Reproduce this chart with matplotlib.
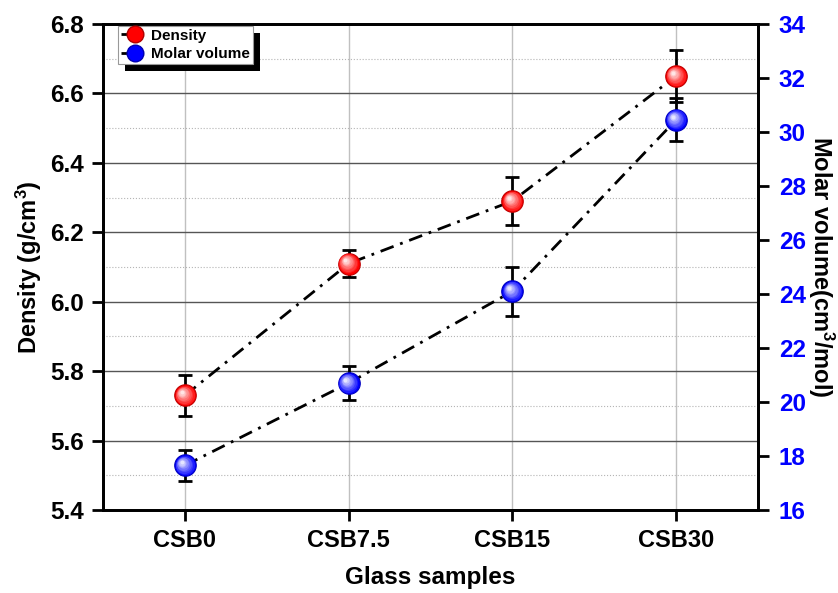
import numpy as np
import matplotlib
matplotlib.use('Agg')
import matplotlib.pyplot as plt
from matplotlib.lines import Line2D
from matplotlib.patches import Rectangle
from matplotlib.transforms import offset_copy, IdentityTransform
from matplotlib.ticker import MultipleLocator
import matplotlib.colors as mcolors

plt.rcParams['font.family'] = ['Liberation Sans', 'DejaVu Sans']
plt.rcParams['font.weight'] = 'bold'
plt.rcParams['mathtext.fontset'] = 'custom'
plt.rcParams['mathtext.rm'] = 'Liberation Sans:bold'
plt.rcParams['mathtext.bf'] = 'Liberation Sans:bold'
plt.rcParams['mathtext.default'] = 'bf'

# 数据
samples = ['CSB0', 'CSB7.5', 'CSB15', 'CSB30']
density = [5.73, 6.11, 6.29, 6.65]
density_err = [0.06, 0.04, 0.07, 0.075]
molar_volume = [17.65, 20.7, 24.1, 30.45]
molar_volume_err = [0.57, 0.62, 0.9, 0.8]

xs = np.arange(len(samples))
dashdot = (0, (5, 2.5, 1, 2.5))


def sphere(ax, x, y, color, size=15.5):
    # 画一个带高光的小球
    base = np.array(mcolors.to_rgb(color))
    ax.plot(x, y, 'o', ms=size, color=color, mec=tuple(base * 0.75),
            mew=0.8, ls='none', zorder=6)
    steps = 8
    for i in range(1, steps + 1):
        f = i / steps
        c = base * (1 - f * 0.9) + np.ones(3) * f * 0.9
        tr = offset_copy(ax.transData, fig=ax.figure, x=-2.4 * f, y=2.4 * f, units='points')
        ax.plot(x, y, 'o', ms=size * (1 - 0.82 * f), color=tuple(c), mew=0, ls='none',
                transform=tr, zorder=6 + i * 0.01)


fig = plt.figure(figsize=(8.38, 5.93), dpi=100)
ax = fig.add_axes([0.123, 0.14, 0.7815, 0.8195])
ax2 = ax.twinx()

# 左轴 密度
ax.plot(xs, density, color='black', lw=2, ls=dashdot, zorder=3)
ax.errorbar(xs, density, yerr=density_err, fmt='none', ecolor='black', elinewidth=2,
            capsize=5, capthick=2, zorder=4)
sphere(ax, xs, density, 'red')

# 右轴 摩尔体积
ax2.plot(xs, molar_volume, color='black', lw=2, ls=dashdot, zorder=3)
ax2.errorbar(xs, molar_volume, yerr=molar_volume_err, fmt='none', ecolor='black', elinewidth=2,
             capsize=5, capthick=2, zorder=4)
sphere(ax2, xs, molar_volume, 'blue')

ax.set_xlim(-0.5, 3.5)
ax.set_ylim(5.4, 6.8)
ax2.set_ylim(16, 34)
ax.set_xticks(xs)
ax.set_xticklabels(samples)
ax.yaxis.set_major_locator(MultipleLocator(0.2))
ax.yaxis.set_minor_locator(MultipleLocator(0.1))
ax2.yaxis.set_major_locator(MultipleLocator(2))
ax.yaxis.set_major_formatter(plt.FormatStrFormatter('%.1f'))

ax.grid(True, which='major', axis='y', color='#555555', lw=1)
ax.grid(True, which='minor', axis='y', color='#b5b5b5', lw=0.8, ls=':')
ax.grid(True, which='major', axis='x', color='#c0c0c0', lw=1)
ax.set_axisbelow(True)

for a in (ax, ax2):
    for s in a.spines.values():
        s.set_linewidth(2)
ax.tick_params(axis='both', which='major', direction='out', length=8, width=2,
               labelsize=17.5, pad=6)
ax.tick_params(axis='y', which='minor', length=0)
ax.tick_params(axis='x', which='major', pad=6, labelsize=17)
ax2.tick_params(axis='y', direction='out', length=8, width=2, labelsize=17.5,
                labelcolor='blue', pad=7)

ax.set_xlabel('Glass samples', fontsize=17.5, fontweight='bold', labelpad=10)
ax.set_ylabel('Density (g/cm$^{3}$)', fontsize=17, fontweight='bold', labelpad=4)
ax2.set_ylabel('Molar volume(cm$^{3}$/mol)', fontsize=17, fontweight='bold',
               rotation=270, labelpad=22)

# 图例
handles = [
    Line2D([], [], color='black', lw=2, ls=(0, (3, 2)), marker='o', ms=12,
           mfc='red', mec='#b00000'),
    Line2D([], [], color='black', lw=2, ls=(0, (3, 2)), marker='o', ms=12,
           mfc='blue', mec='#0000b0'),
]
leg = ax2.legend(handles, ['Density', 'Molar volume'], loc='upper left',
                 bbox_to_anchor=(0.02, 1.0), fontsize=11, frameon=True, fancybox=False,
                 framealpha=1, edgecolor='#999999', borderpad=0.2, handlelength=1.8,
                 handletextpad=0.2, labelspacing=0.3, borderaxespad=0.1)
leg.get_frame().set_linewidth(0.8)
leg.set_zorder(10)
fig.canvas.draw()
bb = leg.get_window_extent()
shadow = Rectangle((bb.x0 + 7, bb.y0 - 7), bb.width, bb.height, transform=IdentityTransform(),
                   facecolor='black', edgecolor='none', zorder=9)
ax2.add_artist(shadow)

fig.savefig('out.png', dpi=100)
